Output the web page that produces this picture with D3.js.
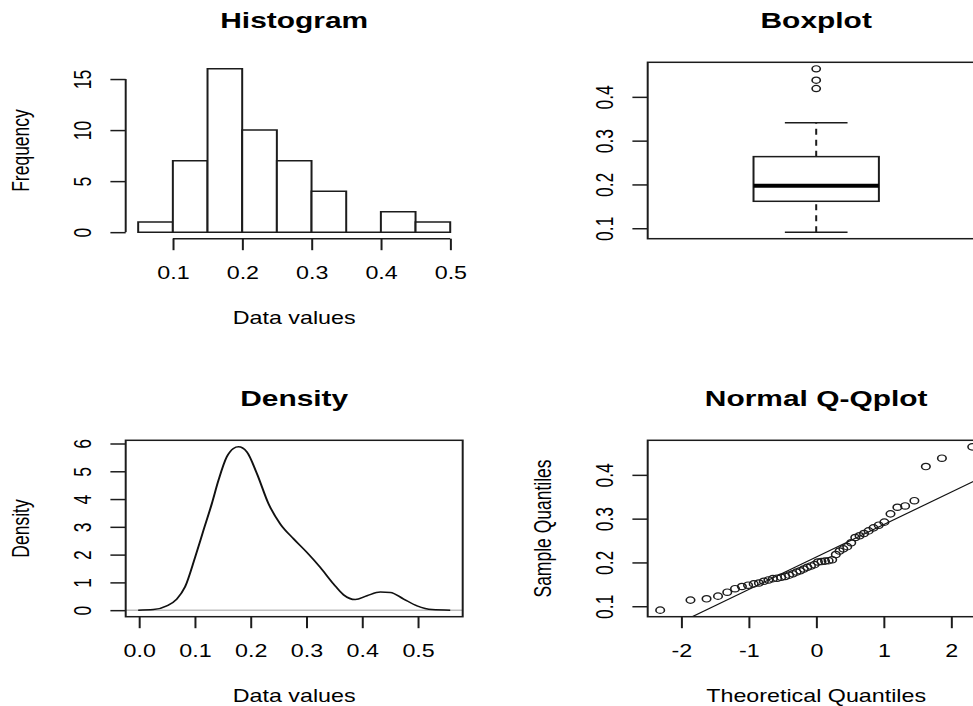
<!DOCTYPE html>
<html>
<head>
<meta charset="utf-8">
<script src="https://cdn.jsdelivr.net/npm/d3@7"></script>
<style>
body { margin: 0; background: #fff; }
svg { display: block; font-family: "Liberation Sans", Arial, sans-serif; }
</style>
</head>
<body>
<div id="chart"></div>
<script>
// histogram
var histBreaks = [0.05, 0.10, 0.15, 0.20, 0.25, 0.30, 0.35, 0.40, 0.45, 0.50];
var histCounts = [1, 7, 16, 10, 7, 4, 0, 2, 1];
var histXTicks = [0.1, 0.2, 0.3, 0.4, 0.5];
var histYTicks = [0, 5, 10, 15];

// boxplot: lower whisker, lower hinge, median, upper hinge, upper whisker
var boxStats = [0.091, 0.1615, 0.197, 0.2635, 0.341];
var boxOutliers = [0.419, 0.438, 0.464];
var boxYTicks = [0.1, 0.2, 0.3, 0.4];

// density curve
var densityX = [-0.0015, 0.0257, 0.0497, 0.0677, 0.0826, 0.1005, 0.1155, 0.1305, 0.1424, 0.1574,
                0.1693, 0.1783, 0.1933, 0.2113, 0.2322, 0.2531, 0.277, 0.301, 0.325, 0.349,
                0.3668, 0.3878, 0.4088, 0.4327, 0.4506, 0.4745, 0.4985, 0.5255, 0.558];
var densityY = [0, 0.02, 0.155, 0.40, 0.84, 1.90, 2.87, 3.83, 4.67, 5.52,
                5.82, 5.88, 5.70, 4.92, 3.83, 3.11, 2.57, 2.08, 1.54, 0.94,
                0.55, 0.38, 0.52, 0.65, 0.64, 0.40, 0.155, 0.02, 0];
var densityXTicks = [0, 0.1, 0.2, 0.3, 0.4, 0.5];
var densityYTicks = [0, 1, 2, 3, 4, 5, 6];

// normal Q-Q plot
var qqTheoretical = [-2.312, -1.863, -1.625, -1.455, -1.318, -1.203, -1.101, -1.010, -0.926, -0.849,
                     -0.776, -0.708, -0.642, -0.579, -0.519, -0.460, -0.402, -0.346, -0.291, -0.237,
                     -0.184, -0.131, -0.078, -0.026, 0.026, 0.078, 0.131, 0.184, 0.237, 0.291,
                     0.346, 0.402, 0.460, 0.519, 0.579, 0.642, 0.708, 0.776, 0.849, 0.926,
                     1.010, 1.101, 1.203, 1.318, 1.455, 1.625, 1.863, 2.312];
var qqSample = [0.091, 0.114, 0.117, 0.123, 0.132, 0.140, 0.145, 0.148, 0.151, 0.153,
                0.157, 0.160, 0.163, 0.164, 0.166, 0.168, 0.171, 0.174, 0.178, 0.181,
                0.185, 0.189, 0.192, 0.195, 0.201, 0.202, 0.203, 0.204, 0.206, 0.218,
                0.226, 0.231, 0.236, 0.245, 0.257, 0.261, 0.266, 0.272, 0.279, 0.285,
                0.292, 0.311, 0.326, 0.329, 0.341, 0.419, 0.438, 0.464];
var qqXTicks = [-2, -1, 0, 1, 2];
var qqYTicks = [0.1, 0.2, 0.3, 0.4];

var width = 973, height = 706;
var SX = 1.33; // the picture is stretched sideways
var lineCol = '#1c1c1c';
var lw = 1.5;

var cols = [[125.7, 462.7], [647.7, 984.7]];
var rows = [[62.3, 238.7], [440.3, 616.7]];

function region(c, r) {
	return {x0: cols[c][0] / SX, x1: cols[c][1] / SX, y0: rows[r][0], y1: rows[r][1]};
}

function pad(ext) {
	var d = (ext[1] - ext[0]) * 0.04;
	return [ext[0] - d, ext[1] + d];
}

var svg = d3.select('#chart').append('svg')
	.attr('width', width)
	.attr('height', height);

svg.append('rect').attr('width', width).attr('height', height).attr('fill', '#fff');

var root = svg.append('g').attr('transform', 'scale(' + SX + ',1)');

function addTitle(p, txt) {
	root.append('text')
		.attr('x', (p.x0 + p.x1) / 2)
		.attr('y', p.y0 - 34.5)
		.attr('text-anchor', 'middle')
		.attr('font-weight', 'bold')
		.attr('font-size', 22.5)
		.text(txt);
}

function addXLabel(p, txt) {
	root.append('text')
		.attr('x', (p.x0 + p.x1) / 2)
		.attr('y', p.y1 + 85)
		.attr('text-anchor', 'middle')
		.attr('font-size', 17.5)
		.text(txt);
}

function addYLabel(p, txt) {
	root.append('text')
		.attr('transform', 'translate(' + (p.x0 - 73) + ',' + ((p.y0 + p.y1) / 2) + ') rotate(-90)')
		.attr('text-anchor', 'middle')
		.attr('font-size', 17.5)
		.text(txt);
}

function xAxis(p, scale, ticks, fmt, withLine) {
	var g = root.append('g')
		.attr('transform', 'translate(0,' + p.y1 + ')')
		.call(d3.axisBottom(scale).tickValues(ticks).tickFormat(fmt).tickSize(11.5));
	g.attr('font-family', null).attr('font-size', null);
	g.select('.domain').remove();
	g.selectAll('line').attr('stroke', lineCol).attr('stroke-width', lw);
	g.selectAll('text').attr('y', 40).attr('dy', null).attr('font-size', 17.5).attr('fill', '#000');
	if (withLine) {
		g.append('line')
			.attr('x1', scale(ticks[0])).attr('x2', scale(ticks[ticks.length - 1]))
			.attr('stroke', lineCol).attr('stroke-width', lw);
	}
}

function yAxis(p, scale, ticks, fmt, withLine) {
	var g = root.append('g')
		.attr('transform', 'translate(' + p.x0 + ',0)')
		.call(d3.axisLeft(scale).tickValues(ticks).tickFormat(fmt).tickSize(11.5));
	g.attr('font-family', null).attr('font-size', null);
	g.select('.domain').remove();
	g.selectAll('line').attr('stroke', lineCol).attr('stroke-width', lw);
	g.selectAll('text')
		.attr('x', 0).attr('y', -26).attr('dy', null)
		.attr('transform', 'rotate(-90)')
		.attr('text-anchor', 'middle')
		.attr('font-size', 17.5)
		.attr('fill', '#000');
	if (withLine) {
		g.append('line')
			.attr('y1', scale(ticks[0])).attr('y2', scale(ticks[ticks.length - 1]))
			.attr('stroke', lineCol).attr('stroke-width', lw);
	}
}

function frame(p) {
	root.append('rect')
		.attr('x', p.x0).attr('y', p.y0)
		.attr('width', p.x1 - p.x0).attr('height', p.y1 - p.y0)
		.attr('fill', 'none').attr('stroke', lineCol).attr('stroke-width', lw);
}

var f1 = d3.format('.1f');
// plain hyphen minus, like R prints
var fInt = function(d) { return String(d); };

// ---- Histogram
var p1 = region(0, 0);
var hx = d3.scaleLinear().domain(pad([histBreaks[0], histBreaks[histBreaks.length - 1]])).range([p1.x0, p1.x1]);
var hy = d3.scaleLinear().domain(pad([0, d3.max(histCounts)])).range([p1.y1, p1.y0]);

root.append('g').selectAll('path')
	.data(histCounts)
	.join('path')
	.attr('d', function(d, i) {
		return 'M' + hx(histBreaks[i]) + ',' + hy(0) + 'V' + hy(d) + 'H' + hx(histBreaks[i + 1]) + 'V' + hy(0) + 'Z';
	})
	.attr('fill', '#fff')
	.attr('stroke', lineCol)
	.attr('stroke-width', lw);

xAxis(p1, hx, histXTicks, f1, true);
yAxis(p1, hy, histYTicks, fInt, true);
addTitle(p1, 'Histogram');
addXLabel(p1, 'Data values');
addYLabel(p1, 'Frequency');

// ---- Boxplot
var p2 = region(1, 0);
var bx = d3.scaleLinear().domain([0.5, 1.5]).range([p2.x0, p2.x1]);
var by = d3.scaleLinear().domain(pad(d3.extent(boxStats.concat(boxOutliers)))).range([p2.y1, p2.y0]);
var boxHalf = 0.186, capHalf = 0.093;

var bg = root.append('g');
bg.append('line')
	.attr('x1', bx(1)).attr('x2', bx(1))
	.attr('y1', by(boxStats[0])).attr('y2', by(boxStats[1]))
	.attr('stroke', lineCol).attr('stroke-width', lw).attr('stroke-dasharray', '6,5');
bg.append('line')
	.attr('x1', bx(1)).attr('x2', bx(1))
	.attr('y1', by(boxStats[3])).attr('y2', by(boxStats[4]))
	.attr('stroke', lineCol).attr('stroke-width', lw).attr('stroke-dasharray', '6,5');
bg.selectAll('line.cap')
	.data([boxStats[0], boxStats[4]])
	.join('line')
	.attr('class', 'cap')
	.attr('x1', bx(1 - capHalf)).attr('x2', bx(1 + capHalf))
	.attr('y1', function(d) { return by(d); }).attr('y2', function(d) { return by(d); })
	.attr('stroke', lineCol).attr('stroke-width', lw);
bg.append('rect')
	.attr('x', bx(1 - boxHalf)).attr('width', bx(1 + boxHalf) - bx(1 - boxHalf))
	.attr('y', by(boxStats[3])).attr('height', by(boxStats[1]) - by(boxStats[3]))
	.attr('fill', '#fff').attr('stroke', lineCol).attr('stroke-width', lw);
bg.append('line')
	.attr('x1', bx(1 - boxHalf)).attr('x2', bx(1 + boxHalf))
	.attr('y1', by(boxStats[2])).attr('y2', by(boxStats[2]))
	.attr('stroke', '#000').attr('stroke-width', 4);
bg.selectAll('circle')
	.data(boxOutliers)
	.join('circle')
	.attr('cx', bx(1))
	.attr('cy', function(d) { return by(d); })
	.attr('r', 3.1)
	.attr('fill', 'none').attr('stroke', lineCol).attr('stroke-width', 1.2);

frame(p2);
yAxis(p2, by, boxYTicks, f1, false);
addTitle(p2, 'Boxplot');

// ---- Density
var p3 = region(0, 1);
var dx = d3.scaleLinear().domain(pad(d3.extent(densityX))).range([p3.x0, p3.x1]);
var dy = d3.scaleLinear().domain(pad([0, d3.max(densityY)])).range([p3.y1, p3.y0]);

root.append('line')
	.attr('x1', p3.x0).attr('x2', p3.x1)
	.attr('y1', dy(0)).attr('y2', dy(0))
	.attr('stroke', '#bebebe').attr('stroke-width', 1.5);

root.append('path')
	.datum(d3.zip(densityX, densityY))
	.attr('d', d3.line()
		.x(function(d) { return dx(d[0]); })
		.y(function(d) { return dy(d[1]); })
		.curve(d3.curveMonotoneX))
	.attr('fill', 'none')
	.attr('stroke', '#111')
	.attr('stroke-width', 1.5);

frame(p3);
xAxis(p3, dx, densityXTicks, f1, false);
yAxis(p3, dy, densityYTicks, fInt, false);
addTitle(p3, 'Density');
addXLabel(p3, 'Data values');
addYLabel(p3, 'Density');

// ---- Normal Q-Q plot
var p4 = region(1, 1);
var qx = d3.scaleLinear().domain(pad(d3.extent(qqTheoretical))).range([p4.x0, p4.x1]);
var qy = d3.scaleLinear().domain(pad(d3.extent(qqSample))).range([p4.y1, p4.y0]);

svg.append('defs').append('clipPath')
	.attr('id', 'qqclip')
	.append('rect')
	.attr('x', p4.x0).attr('y', p4.y0)
	.attr('width', p4.x1 - p4.x0).attr('height', p4.y1 - p4.y0);

// qqline through the quartiles
var zq = 0.6744898;
var sq1 = d3.quantile(qqSample, 0.25), sq3 = d3.quantile(qqSample, 0.75);
var slope = (sq3 - sq1) / (2 * zq);
var icpt = sq1 + zq * slope;
var xd = qx.domain();
root.append('line')
	.attr('clip-path', 'url(#qqclip)')
	.attr('x1', qx(xd[0])).attr('y1', qy(icpt + slope * xd[0]))
	.attr('x2', qx(xd[1])).attr('y2', qy(icpt + slope * xd[1]))
	.attr('stroke', '#111').attr('stroke-width', 1.1);

root.append('g').selectAll('circle')
	.data(d3.zip(qqTheoretical, qqSample))
	.join('circle')
	.attr('cx', function(d) { return qx(d[0]); })
	.attr('cy', function(d) { return qy(d[1]); })
	.attr('r', 3.2)
	.attr('fill', 'none')
	.attr('stroke', lineCol)
	.attr('stroke-width', 1.2);

frame(p4);
xAxis(p4, qx, qqXTicks, fInt, false);
yAxis(p4, qy, qqYTicks, f1, false);
addTitle(p4, 'Normal Q-Qplot');
addXLabel(p4, 'Theoretical Quantiles');
addYLabel(p4, 'Sample Quantiles');
</script>
</body>
</html>
